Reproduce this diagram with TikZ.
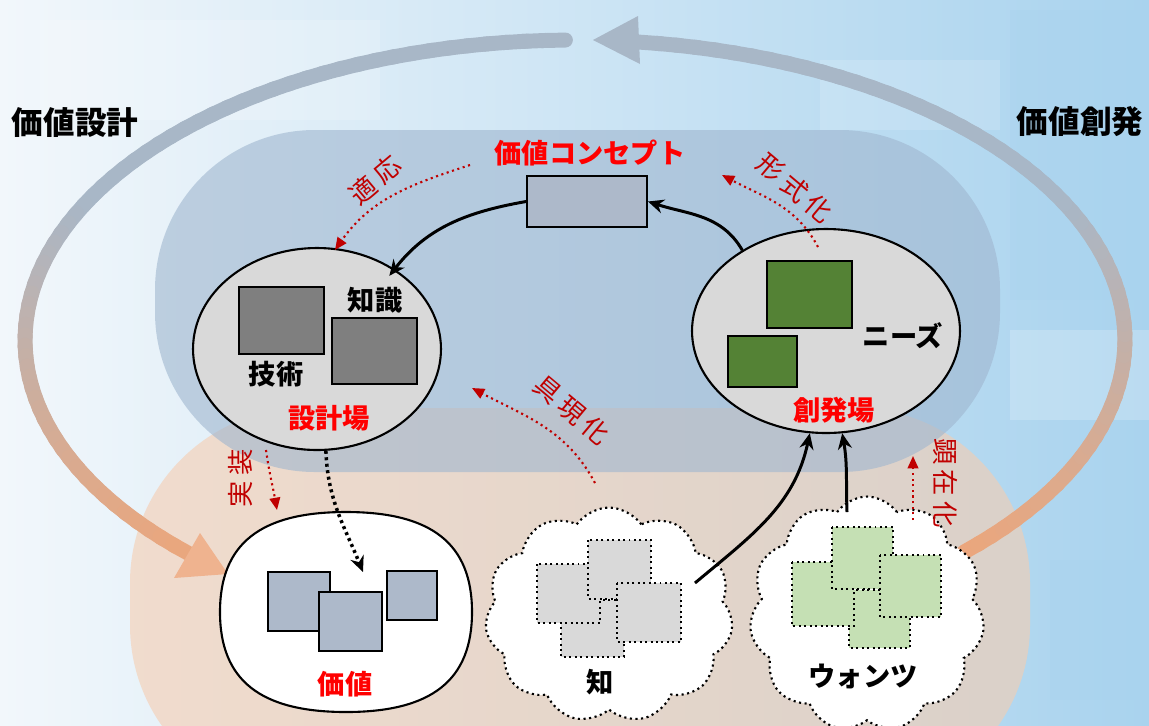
\documentclass[tikz,border=0pt]{standalone}
\usepackage{fontspec}
\setmainfont{Noto Sans CJK JP}
\usetikzlibrary{arrows.meta,shapes.geometric,shapes.symbols}
\definecolor{bgA}{HTML}{F2F7FB}
\definecolor{bgB}{HTML}{A9D3EE}
\definecolor{ovalblue}{HTML}{9FB6CF}
\definecolor{ovalorange}{HTML}{F6CDB0}
\definecolor{arcgrey}{HTML}{A8B7C7}
\definecolor{arcorange}{HTML}{ECA67B}
\definecolor{fieldgrey}{HTML}{D9D9D9}
\definecolor{darkbox}{HTML}{7F7F7F}
\definecolor{greenbox}{HTML}{548235}
\definecolor{lightgreen}{HTML}{C5E0B4}
\definecolor{bluebox}{HTML}{ADB9CA}
\definecolor{labred}{HTML}{FF0000}
\definecolor{notered}{HTML}{C00000}
\begin{document}
\begin{tikzpicture}[x=0.02cm,y=0.02cm,
  field/.style={ellipse, draw=black, line width=1.2pt, fill=fieldgrey, inner sep=0pt},
  sq/.style={draw=black, line width=1.1pt},
  dsq/.style={draw=black, dotted, line width=1.1pt, fill=fieldgrey},
  gsq/.style={draw=black, dotted, line width=1.1pt, fill=lightgreen},
  lbl/.style={font=\fontsize{15.5}{16}\selectfont\bfseries, inner sep=0pt},
  redlbl/.style={lbl, text=labred},
  title/.style={font=\fontsize{18}{19}\selectfont\bfseries, inner sep=0pt},
  note/.style={font=\fontsize{15}{16}\selectfont\addfontfeatures{LetterSpace=20}, text=notered, inner sep=0pt},
  flow/.style={line width=1.7pt, -{Stealth[length=9pt,width=8pt]}},
  noteflow/.style={dotted, notered, line width=1.2pt, -{Triangle[length=7pt,width=6pt]}},
  cloudbox/.style={cloud, cloud puffs=11, cloud puff arc=110, cloud ignores aspect, draw=black, dotted, line width=1.2pt, fill=white, inner sep=0pt}
]
\useasboundingbox (0,0) rectangle (1149,-725);
\clip (0,0) rectangle (1149,-725);
% background
\shade[left color=bgA, right color=bgB] (0,0) rectangle (1149,-725);
\fill[white, opacity=0.18] (40,-20) rectangle (380,-120);
\fill[white, opacity=0.15] (820,-60) rectangle (1000,-130);
\fill[bgB, opacity=0.4] (1010,-10) rectangle (1149,-300);
\fill[white, opacity=0.2] (1010,-330) rectangle (1149,-420);
\fill[bgB, opacity=0.4] (1050,-560) rectangle (1149,-700);
\fill[ovalorange, opacity=0.6, rounded corners=3.5cm] (130,-408) rectangle (1030,-800);
\fill[ovalblue, opacity=0.6, rounded corners=3.2cm] (155,-130) rectangle (1000,-472);
% big cycle arcs
\foreach \a in {91,93,...,223}{
  \pgfmathsetmacro\ya{340-300*sin(\a)}
  \pgfmathsetmacro\p{min(100,max(0,(560-\ya)/3.6))}
  \draw[line width=8.5pt, line cap=round, color=arcgrey!\p!arcorange]
    ({575+550*cos(\a)},{-340+300*sin(\a)}) -- ({575+550*cos(\a+2.5)},{-340+300*sin(\a+2.5)});
}
\fill[arcorange!85!white] (228,-574) -- (174,-578) -- (200,-533) -- cycle;
\foreach \a in {-45,-43,...,81}{
  \pgfmathsetmacro\ya{340-300*sin(\a)}
  \pgfmathsetmacro\p{min(100,max(0,(560-\ya)/3.6))}
  \draw[line width=8.5pt, line cap=round, color=arcgrey!\p!arcorange]
    ({575+550*cos(\a)},{-340+300*sin(\a)}) -- ({575+550*cos(\a+2.5)},{-340+300*sin(\a+2.5)});
}
\fill[arcgrey] (593,-40) -- (638,-16) -- (640,-64) -- cycle;
% titles
\node[title] (tleft) at (75,-122) {価値設計};
\node[title] (tright) at (1080,-122) {価値創発};
% fields
\node[field, minimum width=4.96cm, minimum height=4.04cm] (sek) at (317,-349) {};
\node[field, minimum width=5.36cm, minimum height=4.08cm] (sou) at (826,-331) {};
\node[ellipse, minimum width=5.04cm, minimum height=4cm, inner sep=0pt] (val) at (346,-612) {};
\filldraw[draw=black, line width=1.2pt, fill=white]
  (220,-612) .. controls (220,-544) and (260,-512) .. (346,-512)
  .. controls (432,-512) and (472,-544) .. (472,-612)
  .. controls (472,-680) and (432,-712) .. (346,-712)
  .. controls (260,-712) and (220,-680) .. (220,-612) -- cycle;
\node[draw=black, line width=1.1pt, fill=bluebox, minimum width=2.4cm, minimum height=1.02cm, inner sep=0pt] (conc) at (587,-201.5) {};
\node[cloudbox, minimum width=4.96cm, minimum height=4.3cm] (chi) at (609,-615) {};
\node[cloudbox, minimum width=4.7cm, minimum height=4.7cm] (wants) at (867,-614) {};
% squares
\filldraw[sq, fill=darkbox] (239,-287) rectangle (324,-354);
\filldraw[sq, fill=darkbox] (332,-318) rectangle (417,-384);
\filldraw[sq, fill=greenbox] (767,-261) rectangle (852,-328);
\filldraw[sq, fill=greenbox] (728,-336) rectangle (797,-387);
\filldraw[sq, fill=bluebox] (268,-572) rectangle (330,-631);
\filldraw[sq, fill=bluebox] (319,-592) rectangle (382,-651);
\filldraw[sq, fill=bluebox] (387,-571) rectangle (437,-620);
\filldraw[dsq] (561,-600) rectangle (624,-657);
\filldraw[dsq] (537,-564) rectangle (600,-623);
\filldraw[dsq] (588,-540) rectangle (651,-599);
\filldraw[dsq] (617,-583) rectangle (681,-642);
\filldraw[gsq] (849,-590) rectangle (910,-648);
\filldraw[gsq] (792,-562) rectangle (854,-626);
\filldraw[gsq] (832,-527) rectangle (893,-589);
\filldraw[gsq] (880,-555) rectangle (941,-617);
% labels
\node[redlbl] (lconc) at (590,-153) {価値コンセプト};
\node[lbl] (lchishiki) at (375,-300) {知識};
\node[lbl] (lgijutsu) at (276,-374) {技術};
\node[redlbl] (lsek) at (329,-418) {設計場};
\node[lbl] (lneeds) at (903,-336) {ニーズ};
\node[redlbl] (lsou) at (834,-410) {創発場};
\node[redlbl] (lval) at (345,-684) {価値};
\node[lbl] (lchi) at (600,-682) {知};
\node[lbl] (lwants) at (863,-676) {ウォンツ};
% black flows
\draw[flow] (conc.west) to[out=190,in=52] ([yshift=-0.2cm]sek.49);
\draw[flow] (sou.136) to[out=120,in=-18] (conc.east);
\draw[flow] ([shift={(1.72cm,0.64cm)}]chi.center) to[out=40,in=-102] (sou.261);
\draw[flow] ([shift={(-0.4cm,2.04cm)}]wants.center) to[out=92,in=-80] (sou.279);
\draw[flow, dotted, line width=2pt] (sek.275) to[out=-88,in=112] ([shift={(0.34cm,0.8cm)}]val.center);
% notes
\coordinate (n1a) at (470,-165); \coordinate (n1b) at (335,-250);
\coordinate (n2a) at (818,-247); \coordinate (n2b) at (722,-175);
\coordinate (n3a) at (595,-483); \coordinate (n3b) at (472,-388);
\coordinate (n4a) at (266,-450); \coordinate (n4b) at (277,-510);
\coordinate (n5a) at (913,-520); \coordinate (n5b) at (913,-456);
\draw[noteflow] (n1a) to[out=198,in=55] (n1b);
\draw[noteflow] (n2a) to[out=118,in=-28] (n2b);
\draw[noteflow] (n3a) to[out=118,in=-28] (n3b);
\draw[noteflow] (n4a) to[out=-82,in=100] (n4b);
\draw[noteflow] (n5a) -- (n5b);
\node[note, rotate=40] (t1) at (375,-180) {適応};
\node[note, rotate=-40] (t2) at (795,-188) {形式化};
\node[note, rotate=-40] (t3) at (572,-410) {具現化};
\node[note, rotate=90] (t4) at (241,-478) {実装};
\node[note, rotate=-90] (t5) at (945,-483) {顕在化};
\end{tikzpicture}
\end{document}
